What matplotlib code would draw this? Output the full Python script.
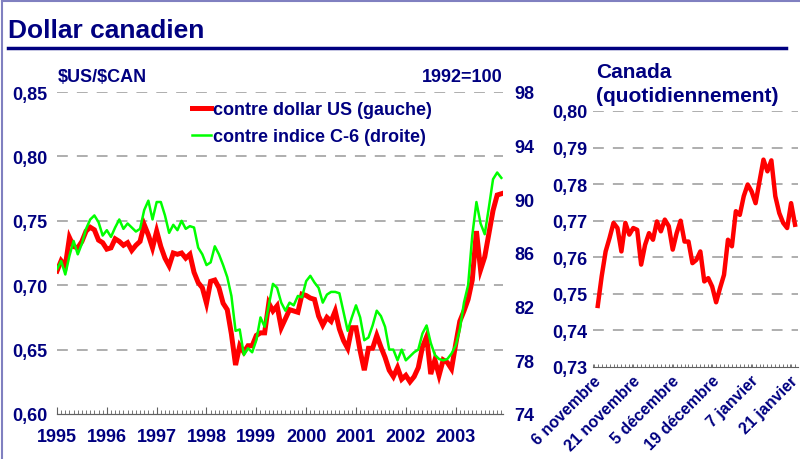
import numpy as np
import matplotlib
matplotlib.use("Agg")
import matplotlib.pyplot as plt
from matplotlib.lines import Line2D
from matplotlib.ticker import FuncFormatter, MultipleLocator

plt.rcParams['font.family'] = ['Liberation Sans', 'DejaVu Sans']

# Donnees mensuelles 1995-2003
usd = [0.711, 0.719, 0.715, 0.737, 0.730, 0.729, 0.734, 0.742, 0.745, 0.743, 0.735, 0.733,
       0.728, 0.729, 0.736, 0.734, 0.731, 0.733, 0.727, 0.731, 0.734, 0.747, 0.739, 0.729,
       0.742, 0.730, 0.721, 0.715, 0.725, 0.724, 0.725, 0.721, 0.724, 0.710, 0.702, 0.698,
       0.686, 0.703, 0.704, 0.698, 0.686, 0.681, 0.662, 0.638, 0.653, 0.648, 0.653, 0.653,
       0.661, 0.663, 0.663, 0.686, 0.680, 0.684, 0.667, 0.674, 0.681, 0.680, 0.679, 0.693,
       0.692, 0.690, 0.689, 0.676, 0.669, 0.675, 0.672, 0.680, 0.666, 0.657, 0.651, 0.667,
       0.667, 0.649, 0.634, 0.651, 0.651, 0.661, 0.652, 0.644, 0.634, 0.629, 0.636, 0.627,
       0.630, 0.625, 0.629, 0.636, 0.652, 0.660, 0.631, 0.642, 0.630, 0.642, 0.640, 0.635,
       0.654, 0.672, 0.680, 0.689, 0.704, 0.742, 0.712, 0.722, 0.740, 0.758, 0.770, 0.771]
c6 = [84.8, 85.4, 84.4, 85.8, 86.9, 85.9, 86.7, 87.8, 88.5, 88.8, 88.3, 87.3,
      87.7, 87.2, 87.9, 88.5, 87.8, 88.2, 87.9, 87.6, 87.8, 89.2, 89.9, 88.5,
      89.8, 89.8, 88.8, 87.5, 88.1, 87.7, 88.4, 87.8, 88.0, 87.9, 86.4, 85.9,
      85.1, 85.3, 86.5, 85.9, 85.1, 84.2, 82.8, 80.2, 80.3, 78.4, 78.9, 78.6,
      79.5, 81.2, 80.5, 82.1, 83.7, 83.4, 82.3, 81.7, 82.3, 82.1, 82.8, 82.7,
      83.9, 84.3, 83.8, 83.4, 82.3, 82.9, 83.1, 83.1, 83.0, 81.6, 80.2, 81.2,
      82.1, 81.2, 79.5, 79.7, 80.6, 81.7, 81.3, 80.5, 78.8, 78.8, 78.0, 78.8,
      78.0, 78.3, 78.6, 78.8, 80.0, 80.6, 79.3, 78.4, 78.1, 78.0, 78.1, 78.5,
      79.1, 80.3, 82.3, 83.6, 87.3, 89.8, 88.2, 87.4, 89.4, 91.5, 92.0, 91.6]
annees = [1995, 1996, 1997, 1998, 1999, 2000, 2001, 2002, 2003]

# Donnees quotidiennes (6 novembre 2003 - fin janvier 2004)
jours = [0.7467, 0.7548, 0.7616, 0.7653, 0.7694, 0.7680, 0.7616, 0.7694, 0.7662, 0.7680,
         0.7675, 0.7580, 0.7634, 0.7666, 0.7648, 0.7698, 0.7671, 0.7703, 0.7685, 0.7621,
         0.7666, 0.7700, 0.7643, 0.7643, 0.7584, 0.7593, 0.7616, 0.7534, 0.7543, 0.7520,
         0.7477, 0.7516, 0.7552, 0.7648, 0.7630, 0.7726, 0.7716, 0.7767, 0.7799, 0.7780,
         0.7748, 0.7808, 0.7867, 0.7835, 0.7865, 0.7767, 0.7721, 0.7694, 0.7680, 0.7748,
         0.7689]
dates = ['6 novembre', '21 novembre', '5 décembre', '19 décembre', '7 janvier', '21 janvier']

navy = '#000080'
gris = '#a8a8a8'
virg = FuncFormatter(lambda v, p: f"{v:.2f}".replace('.', ','))

fig = plt.figure(figsize=(8, 4.6), dpi=100)

# cadre et titre
fig.add_artist(Line2D([0.003, 0.003], [0, 0.996], color='#8080c0', lw=1.5))
fig.add_artist(Line2D([0.003, 1], [0.996, 0.996], color='#8080c0', lw=1.5))
fig.text(0.01, 0.933, 'Dollar canadien', color=navy, fontsize=19, fontweight='bold', va='center')
fig.add_artist(Line2D([0.01, 0.983], [0.893, 0.893], color=navy, lw=2.5))

# Panneau gauche : mensuel
ax = fig.add_axes([57/800, 45/460, 446/800, 322/460])
x = 1995 + np.arange(len(usd)) / 12
l1, = ax.plot(x, usd, color='#ff0000', lw=3.6, solid_joinstyle='miter')
ax.set_xlim(1995, 2003.95)
ax.set_ylim(0.60, 0.85)
ax.set_yticks([0.60, 0.65, 0.70, 0.75, 0.80, 0.85])
ax.yaxis.set_major_formatter(virg)
ax.set_xticks(annees)
ax.set_xticklabels([str(a) for a in annees])
ax.xaxis.set_minor_locator(MultipleLocator(1/12))
for y in [0.65, 0.70, 0.75, 0.80, 0.85]:
    ax.axhline(y, color=gris, lw=1.3, dashes=(6, 5), zorder=0)

ax2 = ax.twinx()
l2, = ax2.plot(x, c6, color='#00ff00', lw=1.8)
ax2.set_ylim(74, 98)
ax2.set_yticks([74, 78, 82, 86, 90, 94, 98])

for a in (ax, ax2):
    for s in ['top', 'left', 'right']:
        a.spines[s].set_visible(False)
    a.spines['bottom'].set_color('#606060')
    a.spines['bottom'].set_linewidth(0.8)
    a.patch.set_visible(False)
ax.tick_params(axis='y', length=0, pad=7, labelsize=13, labelcolor=navy)
ax2.tick_params(axis='y', length=0, pad=8, labelsize=13, labelcolor=navy)
ax.tick_params(axis='x', which='major', direction='in', length=5, width=0.8, color='#606060',
               pad=10, labelsize=13, labelcolor=navy)
ax.tick_params(axis='x', which='minor', direction='in', length=3, width=0.6, color='#606060')
for t in ax.get_yticklabels() + ax2.get_yticklabels() + ax.get_xticklabels():
    t.set_fontweight('bold')

fig.text(58/800, 1 - 78/460, r'\$US/\$CAN', color=navy, fontsize=13, fontweight='bold', va='center')
fig.text(503/800, 1 - 78/460, '1992=100', color=navy, fontsize=13, fontweight='bold',
         va='center', ha='right')

leg = ax2.legend([l1, l2], ['contre dollar US (gauche)', 'contre indice C-6 (droite)'],
                 loc='upper left', bbox_to_anchor=(192/800, 1 - 102/460),
                 bbox_transform=fig.transFigure, frameon=False, handlelength=1.05,
                 handletextpad=0.1, borderpad=0, borderaxespad=0, labelspacing=0.55,
                 prop={'size': 13, 'weight': 'bold'})
for t in leg.get_texts():
    t.set_color(navy)

# Panneau droit : quotidien
ax3 = fig.add_axes([593/800, 92/460, 205/800, 256/460])
xi = np.arange(len(jours))
ax3.plot(xi, jours, color='#ff0000', lw=3.2)
ax3.set_xlim(-0.5, 50.75)
ax3.set_ylim(0.73, 0.80)
ax3.set_yticks([0.73, 0.74, 0.75, 0.76, 0.77, 0.78, 0.79, 0.80])
ax3.yaxis.set_major_formatter(virg)
for y in [0.74, 0.75, 0.76, 0.77, 0.78, 0.79, 0.80]:
    ax3.axhline(y, color=gris, lw=1.3, dashes=(6, 5), zorder=0)
ax3.set_xticks(np.arange(0, 51, 10) - 1.2)
ax3.set_xticklabels(dates, rotation=45, ha='right', va='top', rotation_mode='anchor')
ax3.xaxis.set_minor_locator(MultipleLocator(1))
for s in ['top', 'left', 'right']:
    ax3.spines[s].set_visible(False)
ax3.spines['bottom'].set_color('#606060')
ax3.spines['bottom'].set_linewidth(0.8)
ax3.patch.set_visible(False)
ax3.tick_params(axis='y', length=0, pad=4, labelsize=13, labelcolor=navy)
ax3.tick_params(axis='x', which='major', direction='in', length=2.5, width=0.6, color='#606060',
                pad=4, labelsize=11.5, labelcolor=navy)
ax3.tick_params(axis='x', which='minor', direction='in', length=2.5, width=0.6, color='#606060')
for t in ax3.get_yticklabels() + ax3.get_xticklabels():
    t.set_fontweight('bold')

fig.text(596/800, 1 - 72/460, 'Canada', color=navy, fontsize=15, fontweight='bold', va='center')
fig.text(596/800, 1 - 96/460, '(quotidiennement)', color=navy, fontsize=15, fontweight='bold',
         va='center')

fig.savefig('out.png', dpi=100)
